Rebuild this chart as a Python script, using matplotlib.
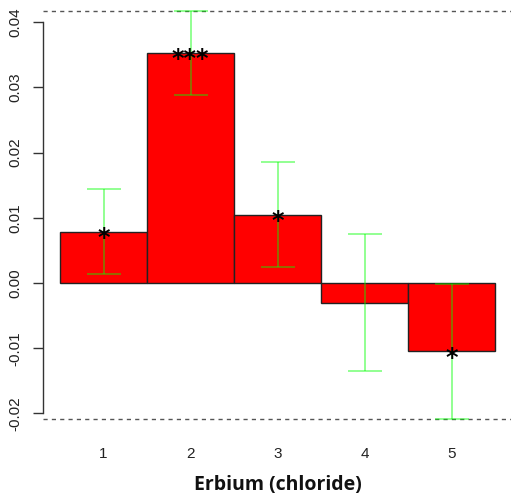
import matplotlib
matplotlib.use("Agg")
import matplotlib.pyplot as plt
import numpy as np

categories = ['1', '2', '3', '4', '5']
values = [0.0079, 0.0353, 0.0105, -0.0030, -0.0105]
errors = [0.0065, 0.0065, 0.0080, 0.0105, 0.0104]
stars = ['*', '***', '*', '', '*']
yticks = [-0.02, -0.01, 0.00, 0.01, 0.02, 0.03, 0.04]
ytick_labels = ['-0.02', '-0.01', '0.00', '0.01', '0.02', '0.03', '0.04']
xlabel = 'Erbium (chloride)'

fig = plt.figure(figsize=(5.11, 5.01), dpi=100)
ax = fig.add_axes([42.6 / 511, 1 - 435.6 / 501, 469.8 / 511, 441.4 / 501])

x = np.arange(1, len(categories) + 1)
vals = np.array(values)
errs = np.array(errors)
upper = vals + errs
lower = vals - errs

ax.bar(x, vals, width=1.0, color='#FF0000', edgecolor='#222222', linewidth=1.0, zorder=2)
ax.errorbar(x, vals, yerr=errs, fmt='none', ecolor=(0, 1, 0, 0.5), elinewidth=1.2,
            capsize=12.5, capthick=1.2, zorder=3)

for xi, v, s in zip(x, vals, stars):
    if s:
        ax.annotate(s, (xi, v), xytext=(0, -9.5), textcoords='offset points',
                    ha='center', va='baseline', fontsize=17, color='black',
                    family='DejaVu Sans', fontweight='bold', zorder=4)

hi, lo = upper.max(), lower.min()
ax.axhline(hi, color='#555555', lw=1.0, ls=(0, (3, 3)), zorder=1)
ax.axhline(lo, color='#555555', lw=1.0, ls=(0, (3, 3)), zorder=1)

pad = 0.04 * (hi - lo)
ax.set_ylim(lo - pad, hi + pad)
ax.set_xlim(0.3, 5.7)

for sp in ['top', 'right', 'bottom']:
    ax.spines[sp].set_visible(False)
ax.spines['left'].set_bounds(yticks[0], yticks[-1])
ax.spines['left'].set_color('#333333')
ax.spines['left'].set_linewidth(1.0)

ax.set_yticks(yticks)
ax.set_yticklabels(ytick_labels, family='Liberation Sans', fontsize=11, color='#222222')
for lab in ax.get_yticklabels():
    lab.set_rotation(90)
    lab.set_va('center')
ax.tick_params(axis='y', length=7, width=1.0, color='#333333', pad=7.5)

ax.set_xticks(x)
ax.set_xticklabels(categories, family='Liberation Sans', fontsize=11, color='#222222')
ax.tick_params(axis='x', length=0, pad=8)

ax.set_xlabel(xlabel, family='Open Sans', fontweight='bold', fontsize=14, color='#111111', labelpad=10.5)

fig.savefig('out.png', dpi=100)
